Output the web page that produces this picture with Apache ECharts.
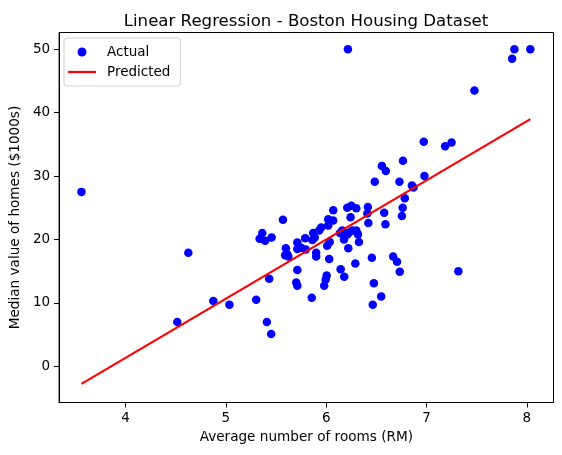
<!DOCTYPE html>
<html>
<head>
<meta charset="utf-8">
<script src="https://cdn.jsdelivr.net/npm/echarts@6/dist/echarts.min.js"></script>
<style>
    html, body { margin: 0; padding: 0; background: #fff; }
    #chart { width: 562px; height: 455px; }
</style>
</head>
<body>
<div id="chart"></div>
<script>
// 数据：房间数 (RM) 与房价中位数 (MEDV)，读自原图
var rmValues = [
    3.561, 4.516, 4.626, 4.875, 5.036, 5.302, 5.409, 5.452, 5.432, 5.363,
    5.336, 5.391, 5.456, 5.569, 5.598, 5.591, 5.623, 5.610, 5.712, 5.712,
    5.790, 5.797, 5.750, 5.712, 5.701, 5.712, 5.856, 5.870, 5.886, 5.950,
    5.930, 5.862, 5.900, 5.900, 6.010, 6.035, 6.030, 6.005, 5.995, 5.980,
    6.144, 6.180, 6.137, 6.177, 6.160, 6.210, 6.227, 6.260, 6.300, 6.316,
    6.220, 6.326, 6.290, 6.020, 6.020, 6.070, 6.070, 6.210, 6.250, 6.300,
    6.243, 6.216, 6.415, 6.410, 6.420, 6.455, 6.475, 6.464, 6.548, 6.484,
    6.555, 6.594, 6.578, 6.590, 6.667, 6.706, 6.733, 6.730, 6.762, 6.754,
    6.783, 6.765, 6.854, 6.870, 6.972, 6.979, 7.185, 7.249, 7.317, 7.477,
    7.853, 7.875, 8.034
];
var medvValues = [
    27.5, 7.0, 17.9, 10.3, 9.7, 10.5, 7.0, 5.1, 13.8, 21.0,
    20.1, 19.8, 20.3, 23.1, 18.6, 17.5, 17.3, 17.7, 19.5, 18.5,
    20.2, 18.4, 18.7, 15.2, 13.2, 12.7, 10.8, 21.0, 20.3, 21.9,
    21.4, 19.9, 17.9, 17.3, 19.0, 19.6, 16.9, 14.3, 13.7, 12.7,
    15.3, 14.1, 21.0, 20.0, 21.4, 20.8, 21.1, 21.4, 21.4, 20.8,
    18.6, 19.6, 16.2, 23.2, 22.2, 23.0, 24.6, 25.0, 25.3, 24.9,
    23.5, 50.0, 25.1, 24.1, 22.6, 17.1, 13.1, 9.7, 11.0, 29.1,
    31.6, 30.8, 24.2, 22.4, 17.3, 16.5, 14.9, 29.1, 25.0, 23.7,
    26.5, 32.4, 28.5, 28.2, 35.4, 30.0, 34.7, 35.3, 15.0, 43.5,
    48.5, 50.0, 50.0
];
// 回归线两端
var predX = [3.561, 8.034];
var predY = [-2.78, 38.97];
var xTicks = [4, 5, 6, 7, 8];
var yTicks = [0, 10, 20, 30, 40, 50];

var FONT = "'DejaVu Sans', sans-serif";

var chart = echarts.init(document.getElementById("chart"), null, { renderer: "canvas" });

var option = {
    animation: false,
    backgroundColor: "#fff",
    title: {
        text: "Linear Regression - Boston Housing Dataset",
        left: 301,
        top: 8,
        textAlign: "center",
        textStyle: {
            fontFamily: FONT,
            fontSize: 16.6,
            fontWeight: "normal",
            color: "#000"
        }
    },
    legend: {
        orient: "vertical",
        left: 64,
        top: 38,
        padding: [7, 10, 7, 4],
        itemGap: 6,
        itemWidth: 28,
        itemHeight: 9,
        symbolKeepAspect: true,
        backgroundColor: "rgba(255,255,255,0.8)",
        borderColor: "#d0d0d0",
        borderWidth: 1,
        borderRadius: 3,
        textStyle: {
            fontFamily: FONT,
            fontSize: 13.5,
            color: "#000",
            padding: [0, 0, 0, 6]
        },
        data: [
            { name: "Actual", icon: "circle" },
            { name: "Predicted", icon: "path://M0,0 L28,0 L28,2.2 L0,2.2 Z", itemStyle: { color: "#ff0000" } }
        ]
    },
    grid: {
        left: 57.5,
        right: 8.5,
        top: 32.5,
        bottom: 52.5,
        show: true,
        borderColor: "#000",
        borderWidth: 1,
        backgroundColor: "transparent"
    },
    xAxis: {
        type: "value",
        min: 3.338,
        max: 8.265,
        name: "Average number of rooms (RM)",
        nameLocation: "middle",
        nameGap: 27,
        nameTextStyle: { fontFamily: FONT, fontSize: 13.6, color: "#000" },
        axisLine: { show: true, onZero: false, lineStyle: { color: "#000", width: 1 } },
        axisTick: { show: true, length: 5, customValues: xTicks, lineStyle: { color: "#000" } },
        axisLabel: {
            customValues: xTicks,
            margin: 9,
            fontFamily: FONT,
            fontSize: 13.5,
            color: "#000"
        },
        splitLine: { show: false }
    },
    yAxis: {
        type: "value",
        min: -5.71,
        max: 52.63,
        name: "Median value of homes ($1000s)",
        nameLocation: "middle",
        nameGap: 33,
        nameTextStyle: { fontFamily: FONT, fontSize: 13.6, color: "#000" },
        axisLine: { show: true, onZero: false, lineStyle: { color: "#000", width: 1 } },
        axisTick: { show: true, length: 5, customValues: yTicks, lineStyle: { color: "#000" } },
        axisLabel: {
            customValues: yTicks,
            margin: 9,
            fontFamily: FONT,
            fontSize: 13.5,
            color: "#000"
        },
        splitLine: { show: false }
    },
    series: [
        {
            name: "Actual",
            type: "scatter",
            symbolSize: 8.5,
            itemStyle: { color: "#0000ff", opacity: 1 },
            data: rmValues.map(function (x, i) { return [x, medvValues[i]]; }),
            z: 2
        },
        {
            name: "Predicted",
            type: "line",
            symbol: "none",
            lineStyle: { color: "#ff0000", width: 2.2 },
            itemStyle: { color: "#ff0000" },
            data: predX.map(function (x, i) { return [x, predY[i]]; }),
            z: 3
        }
    ]
};

chart.setOption(option);
</script>
</body>
</html>
